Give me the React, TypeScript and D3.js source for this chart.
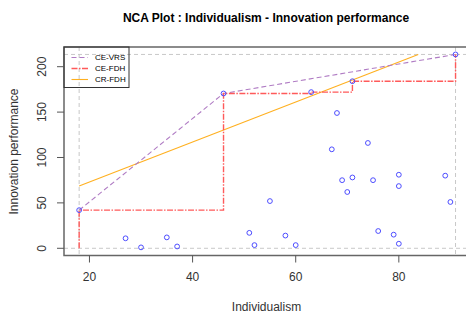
import React from "react";
import * as d3 from "d3";

const individualism = [18, 27, 30, 35, 37, 46, 51, 52, 55, 58, 60, 63, 67, 68, 69, 70, 71, 71, 74, 75, 76, 79, 80, 80, 80, 89, 90, 91];
const innovation = [42, 11, 1, 12, 2, 170.5, 17, 3.5, 52, 14, 3.5, 172, 109, 149, 75, 62, 78, 184, 116, 75, 19, 15, 81, 68.5, 5, 80, 51, 213.5];

const ceVrsX = [18, 46, 91];
const ceVrsY = [42, 170.5, 213.5];
const ceFdhX = [18, 18, 46, 63, 71, 91];
const ceFdhY = [0, 42, 170.5, 172, 184, 213.5];
const crFdhIntercept = 28.8;
const crFdhSlope = 2.205;

const xTicks = [20, 40, 60, 80];
const yTicks = [0, 50, 100, 150, 200];
const legendLabels = ["CE-VRS", "CE-FDH", "CR-FDH"];

const W = 466, H = 314;
const font = "Liberation Sans, Arial, sans-serif";

export default function App() {
  const x = d3.scaleLinear().domain([15.08, 93.92]).range([64.1, 470.6]);
  const y = d3.scaleLinear().domain([-8.5, 221.7]).range([256, 47]);
  const left = 64, top = 47, bottom = 255.5, right = 470;

  const xMin = d3.min(individualism)!, xMax = d3.max(individualism)!;
  const yMin = 0, yMax = d3.max(innovation)!;

  const line = d3.line<[number, number]>().x(d => x(d[0])).y(d => y(d[1]));
  const vrsPath = line(ceVrsX.map((v, i) => [v, ceVrsY[i]]))!;
  const fdhPath = d3.line<[number, number]>().x(d => x(d[0])).y(d => y(d[1])).curve(d3.curveStepAfter)(
    ceFdhX.map((v, i) => [v, ceFdhY[i]])
  )!;
  const crEndX = (yMax - crFdhIntercept) / crFdhSlope;
  const crPath = line([[xMin, crFdhIntercept + crFdhSlope * xMin], [crEndX, yMax]])!;

  const colors = ["#b07cc4", "#ff5a5a", "#ffb020"];
  const widths = [1.1, 1.4, 1.1];
  const dashes = ["5,3", "6,1.5,1.5,1.5", ""];

  return (
    <svg width={W} height={H} style={{ position: "absolute", left: 0, top: 0, background: "#fff" }} fontFamily={font}>
      <rect width={W} height={H} fill="#fff" />
      <text x={266} y={22} textAnchor="middle" fontSize={12} fontWeight="bold" fill="#000">
        NCA Plot : Individualism - Innovation performance
      </text>
      {/* scope dashed lines */}
      <g stroke="#c8c8c8" strokeDasharray="4,3" strokeWidth={1}>
        <line x1={x(xMin)} x2={x(xMin)} y1={top} y2={bottom} />
        <line x1={x(xMax)} x2={x(xMax)} y1={top} y2={bottom} />
        <line x1={left} x2={right} y1={y(yMin)} y2={y(yMin)} />
        <line x1={left} x2={right} y1={y(yMax)} y2={y(yMax)} />
      </g>
      <path d={crPath} fill="none" stroke={colors[2]} strokeWidth={widths[2]} />
      <path d={vrsPath} fill="none" stroke={colors[0]} strokeWidth={widths[0]} strokeDasharray={dashes[0]} />
      <path d={fdhPath} fill="none" stroke={colors[1]} strokeWidth={widths[1]} strokeDasharray={dashes[1]} />
      {individualism.map((v, i) => (
        <circle key={i} cx={x(v)} cy={y(innovation[i])} r={2.4} fill="none" stroke="#4d4dff" strokeWidth={1} />
      ))}
      {/* box */}
      <rect x={left} y={top} width={right - left} height={bottom - top} fill="none" stroke="#666" strokeWidth={1.5} />
      {/* legend */}
      <rect x={left} y={top} width={65} height={40.5} fill="none" stroke="#333" strokeWidth={1} />
      {legendLabels.map((l, i) => {
        const ly = 57.5 + i * 11;
        return (
          <g key={l}>
            <line x1={71.5} x2={88} y1={ly} y2={ly} stroke={colors[i]} strokeWidth={widths[i]} strokeDasharray={dashes[i] || undefined} />
            <text x={95} y={ly} dy="0.35em" fontSize={8} fill="#000">{l}</text>
          </g>
        );
      })}
      {/* x axis */}
      {xTicks.map(t => (
        <g key={t}>
          <line x1={x(t)} x2={x(t)} y1={bottom} y2={262.5} stroke="#555" />
          <text x={x(t)} y={277} dy="0.35em" textAnchor="middle" fontSize={12} fill="#333">{t}</text>
        </g>
      ))}
      {/* y axis */}
      {yTicks.map(t => (
        <g key={t}>
          <line x1={57} x2={left} y1={y(t)} y2={y(t)} stroke="#555" />
          <text transform={`translate(42,${y(t)}) rotate(-90)`} dy="0.35em" textAnchor="middle" fontSize={12} fill="#333">{t}</text>
        </g>
      ))}
      <text x={266.5} y={307} dy="0.35em" textAnchor="middle" fontSize={12} fill="#333">Individualism</text>
      <text transform={`translate(13.5,151.5) rotate(-90)`} dy="0.35em" textAnchor="middle" fontSize={12} fill="#333">Innovation performance</text>
    </svg>
  );
}
